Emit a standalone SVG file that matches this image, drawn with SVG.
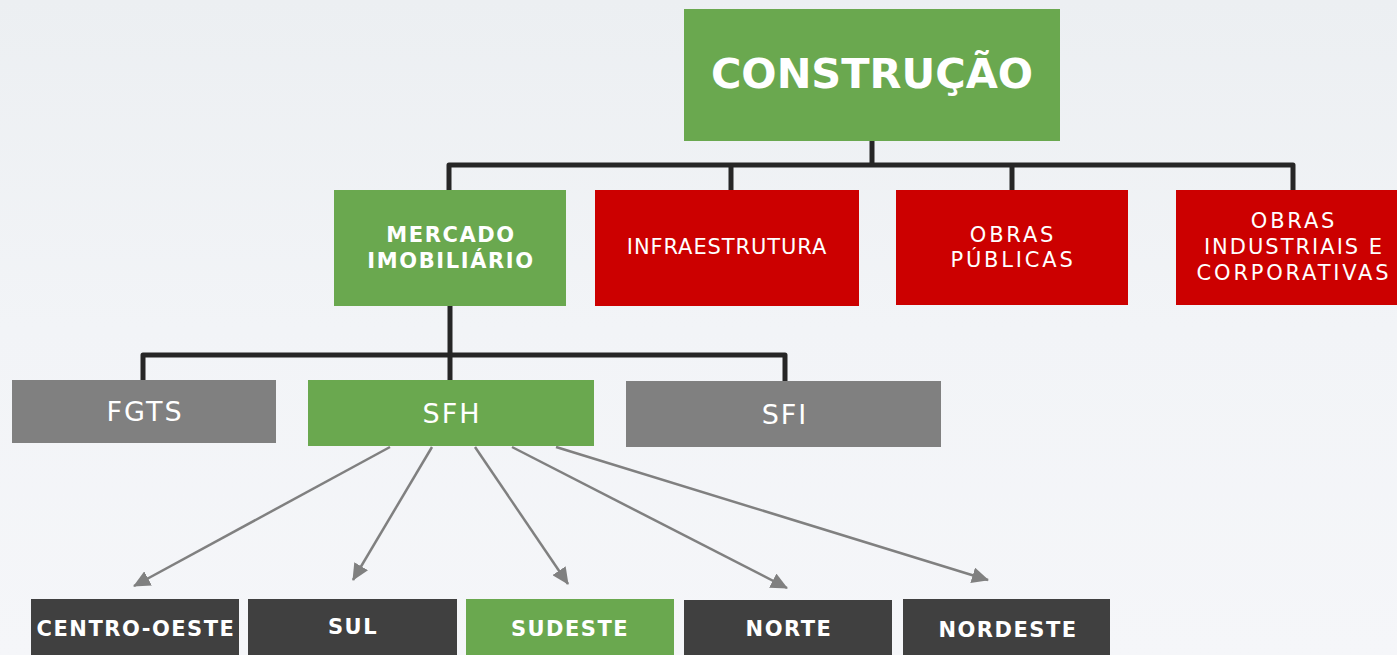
<svg xmlns="http://www.w3.org/2000/svg" width="1397" height="655" viewBox="0 0 1397 655">
<defs>
<linearGradient id="bg" x1="0" y1="0" x2="0" y2="1">
<stop offset="0" stop-color="#eceff2"/>
<stop offset="0.5" stop-color="#f2f4f7"/>
<stop offset="1" stop-color="#f5f6f9"/>
</linearGradient>
<marker id="ah" markerUnits="userSpaceOnUse" markerWidth="18" markerHeight="16" refX="16" refY="8" orient="auto">
<path d="M0,0 L17,8 L0,16 Z" fill="#808080"/>
</marker>
<style>
.green{fill:#6aa84f}
.red{fill:#cc0000}
.gray{fill:#808080}
.dark{fill:#404040}
.t{fill:#ffffff;font-family:"DejaVu Sans","Liberation Sans",sans-serif;text-anchor:middle}
.b{font-weight:bold}
.mid{font-size:21px;letter-spacing:1.6px}
.reg{font-size:21px;letter-spacing:2.8px}
.big{font-size:27px;letter-spacing:2px}
.low{font-size:21px;letter-spacing:1.5px}
.tree{fill:none;stroke:#262626;stroke-width:5;stroke-linejoin:round}
.arr{fill:none;stroke:#808080;stroke-width:2.5;marker-end:url(#ah)}
</style>
</defs>
<rect width="1397" height="655" fill="url(#bg)"/>
<g id="connectors">
<path class="tree" d="M872,141 V165 M449,190 V165 H1293 V190 M731,165 V190 M1012,165 V190"/>
<path class="tree" d="M450,306 V355 M143,380 V355 H785 V381 M450,355 V380"/>
<line class="arr" x1="390" y1="447" x2="134" y2="586"/>
<line class="arr" x1="432" y1="447" x2="353" y2="580"/>
<line class="arr" x1="475" y1="447" x2="568" y2="584"/>
<line class="arr" x1="512" y1="447" x2="787" y2="588"/>
<line class="arr" x1="556" y1="447" x2="988" y2="580"/>
</g>
<g id="construcao"><rect class="green" x="684" y="9" width="376" height="132"/><text class="t b" x="872" y="88" font-size="41.5">CONSTRUÇÃO</text></g>
<g id="mercado"><rect class="green" x="334" y="190" width="232" height="116"/><text class="t b mid" x="451" y="242">MERCADO</text><text class="t b mid" x="451" y="268">IMOBILIÁRIO</text></g>
<g id="infra"><rect class="red" x="595" y="190" width="264" height="116"/><text class="t" x="727" y="254" font-size="21" letter-spacing="0.9">INFRAESTRUTURA</text></g>
<g id="obras-publicas"><rect class="red" x="896" y="190" width="232" height="115"/><text class="t reg" x="1013" y="242">OBRAS</text><text class="t reg" x="1013" y="267">PÚBLICAS</text></g>
<g id="obras-industriais"><rect class="red" x="1176" y="190" width="221" height="115"/><text class="t reg" x="1294" y="228">OBRAS</text><text class="t" x="1294" y="254" font-size="21" letter-spacing="2">INDUSTRIAIS E</text><text class="t reg" x="1294" y="280">CORPORATIVAS</text></g>
<g id="fgts"><rect class="gray" x="12" y="380" width="264" height="63"/><text class="t big" x="145" y="421">FGTS</text></g>
<g id="sfh"><rect class="green" x="308" y="380" width="286" height="66"/><text class="t big" x="452" y="423">SFH</text></g>
<g id="sfi"><rect class="gray" x="626" y="381" width="315" height="66"/><text class="t big" x="785" y="424">SFI</text></g>
<g id="centro-oeste"><rect class="dark" x="31" y="599" width="208" height="56"/><text class="t b low" x="136" y="636">CENTRO-OESTE</text></g>
<g id="sul"><rect class="dark" x="248" y="599" width="209" height="56"/><text class="t b low" x="353" y="634">SUL</text></g>
<g id="sudeste"><rect class="green" x="466" y="599" width="208" height="56"/><text class="t b low" x="570" y="636">SUDESTE</text></g>
<g id="norte"><rect class="dark" x="684" y="600" width="208" height="55"/><text class="t b low" x="789" y="636">NORTE</text></g>
<g id="nordeste"><rect class="dark" x="903" y="599" width="207" height="56"/><text class="t b low" x="1008" y="637">NORDESTE</text></g>
</svg>
